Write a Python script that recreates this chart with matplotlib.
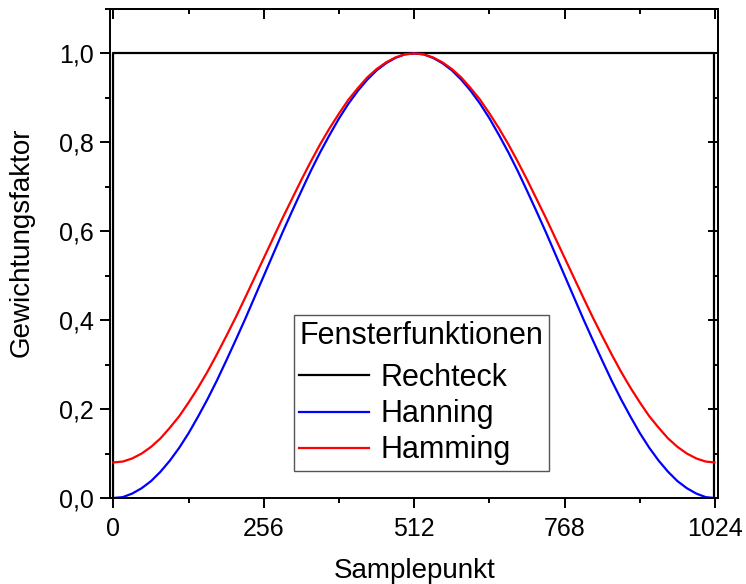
import matplotlib
matplotlib.use("Agg")
import matplotlib.pyplot as plt
from matplotlib.ticker import MultipleLocator

plt.rcParams['font.family'] = ['Liberation Sans', 'DejaVu Sans']

# ---- data ----
sample_x = [0, 16, 32, 48, 64, 80, 96, 112, 128, 144, 160, 176, 192, 208, 224, 240,
            256, 272, 288, 304, 320, 336, 352, 368, 384, 400, 416, 432, 448, 464, 480, 496,
            512, 528, 544, 560, 576, 592, 608, 624, 640, 656, 672, 688, 704, 720, 736, 752,
            768, 784, 800, 816, 832, 848, 864, 880, 896, 912, 928, 944, 960, 976, 992, 1008,
            1023]
hanning = [0.000, 0.002, 0.010, 0.022, 0.038, 0.059, 0.084, 0.113, 0.146, 0.183, 0.222,
           0.264, 0.309, 0.355, 0.402, 0.451, 0.500, 0.549, 0.598, 0.645, 0.691, 0.736,
           0.778, 0.817, 0.854, 0.887, 0.916, 0.941, 0.962, 0.978, 0.990, 0.998, 1.000,
           0.998, 0.990, 0.978, 0.962, 0.941, 0.916, 0.887, 0.854, 0.817, 0.778, 0.736,
           0.691, 0.645, 0.598, 0.549, 0.500, 0.451, 0.402, 0.355, 0.309, 0.264, 0.222,
           0.183, 0.146, 0.113, 0.084, 0.059, 0.038, 0.022, 0.010, 0.002, 0.000]
hamming = [0.080, 0.082, 0.089, 0.100, 0.115, 0.134, 0.158, 0.184, 0.215, 0.248, 0.284,
           0.323, 0.364, 0.406, 0.450, 0.495, 0.540, 0.585, 0.630, 0.673, 0.716, 0.757,
           0.796, 0.832, 0.865, 0.896, 0.922, 0.946, 0.965, 0.980, 0.991, 0.998, 1.000,
           0.998, 0.991, 0.980, 0.965, 0.946, 0.922, 0.896, 0.865, 0.832, 0.796, 0.757,
           0.716, 0.673, 0.630, 0.585, 0.540, 0.495, 0.450, 0.406, 0.364, 0.323, 0.284,
           0.248, 0.215, 0.184, 0.158, 0.134, 0.115, 0.100, 0.089, 0.082, 0.080]
rect_x = [0, 0, 1023, 1023]
rect_y = [0.0, 1.0, 1.0, 0.0]

series_names = ["Rechteck", "Hanning", "Hamming"]
legend_title = "Fensterfunktionen"
x_ticks = [0, 256, 512, 768, 1024]
x_ticklabels = ["0", "256", "512", "768", "1024"]
y_ticks = [0.0, 0.2, 0.4, 0.6, 0.8, 1.0]
y_ticklabels = ["0,0", "0,2", "0,4", "0,6", "0,8", "1,0"]

fig = plt.figure(figsize=(7.46, 5.84), dpi=100)
ax = fig.add_axes([110.5/746, 86/584, 607.5/746, 489/584])

lw = 1.6
ax.plot(rect_x, rect_y, color='black', lw=lw, label=series_names[0])
ax.plot(sample_x, hanning, color='#0000FF', lw=lw, label=series_names[1])
ax.plot(sample_x, hamming, color='#FF0000', lw=lw, label=series_names[2])

ax.set_xlim(-5, 1029)
ax.set_ylim(0, 1.1)

ax.set_xticks(x_ticks)
ax.set_xticklabels(x_ticklabels)
ax.set_yticks(y_ticks)
ax.set_yticklabels(y_ticklabels)
ax.xaxis.set_minor_locator(MultipleLocator(128))
ax.yaxis.set_minor_locator(MultipleLocator(0.1))

for s in ax.spines.values():
    s.set_linewidth(1.4)

ax.tick_params(which='major', direction='out', length=7, width=1.4, labelsize=18, pad=5,
               top=False, right=False)
ax.tick_params(axis='x', which='major', pad=7)
ax.tick_params(which='minor', direction='out', length=3.5, width=1.4, top=False, right=False)

# inward ticks on top and right
secx = ax.secondary_xaxis('top')
secx.set_xticks(x_ticks)
secx.xaxis.set_minor_locator(MultipleLocator(128))
secx.tick_params(which='major', direction='in', length=7, width=1.4, labeltop=False)
secx.tick_params(which='minor', direction='in', length=3.5, width=1.4)
secx.spines['top'].set_linewidth(1.4)

secy = ax.secondary_yaxis('right')
secy.set_yticks(y_ticks)
secy.yaxis.set_minor_locator(MultipleLocator(0.1))
secy.tick_params(which='major', direction='in', length=7, width=1.4, labelright=False)
secy.tick_params(which='minor', direction='in', length=3.5, width=1.4)
secy.spines['right'].set_linewidth(1.4)

ax.set_xlabel("Samplepunkt", fontsize=20, labelpad=12)
ax.set_ylabel("Gewichtungsfaktor", fontsize=20)
ax.yaxis.set_label_coords(-0.125, 0.524)

leg = ax.legend(title=legend_title, loc='upper left', bbox_to_anchor=(0.3015, 0.374),
                borderaxespad=0, fontsize=22, title_fontsize=22, handlelength=2.3,
                handletextpad=0.35, labelspacing=0.2, borderpad=0.18, fancybox=False,
                framealpha=1, edgecolor='#555555', alignment='left')
leg.get_frame().set_linewidth(1.0)
try:
    leg._legend_box.sep = 9
except Exception:
    pass

fig.savefig("out.png", dpi=100)
